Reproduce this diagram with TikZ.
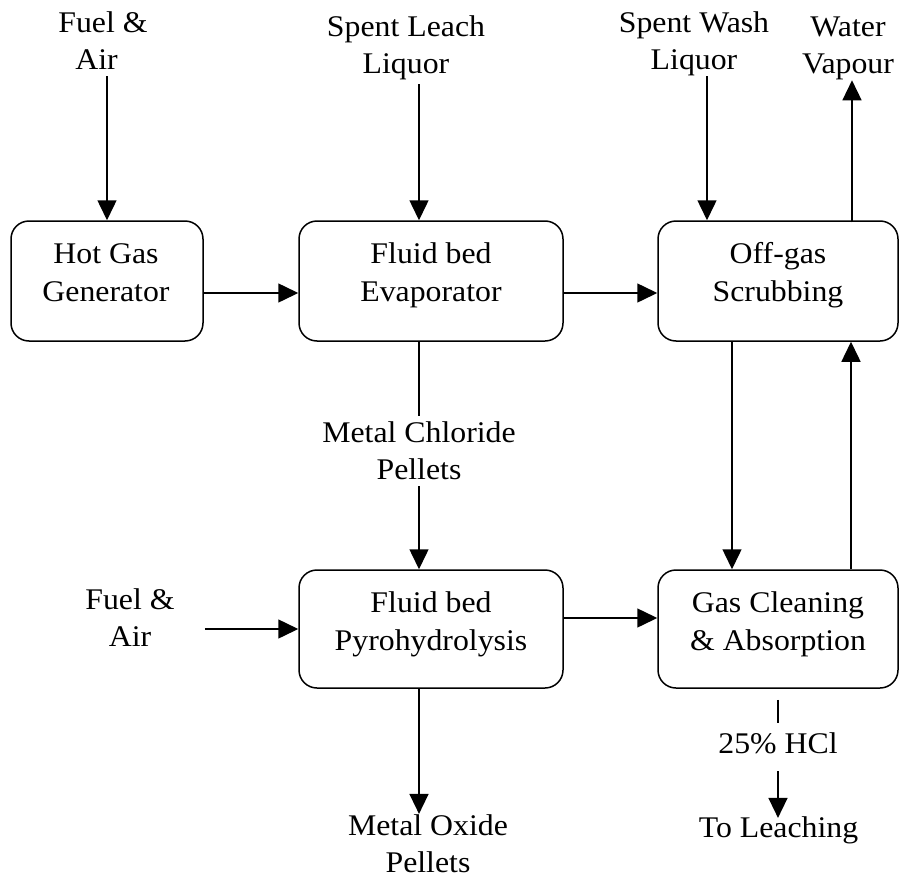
\documentclass[tikz,border=0pt]{standalone}
\usepackage{fontspec}
\setmainfont{Liberation Serif}[FakeStretch=1.06]
\usetikzlibrary{arrows.meta,calc}
\newcommand{\twol}[2]{\begin{tabular}[t]{@{}c@{}}#1\\#2\end{tabular}}
\newcommand{\onel}[1]{\begin{tabular}[t]{@{}c@{}}#1\end{tabular}}
\begin{document}
\begin{tikzpicture}[x=1pt,y=-1pt,
  box/.style={draw, line width=1.5pt, rounded corners=18pt, inner sep=0pt},
  lbl/.style={inner sep=0pt, anchor=base, font=\fontsize{30}{37}\selectfont},
  blbl/.style={inner sep=0pt, anchor=base, font=\fontsize{30}{38}\selectfont},
  arr/.style={line width=1.5pt, -{Triangle[length=20pt,width=19pt]}},
  ln/.style={line width=1.5pt}]
\useasboundingbox (0,0) rectangle (900,878);
% boxes
\node[box, minimum width=192pt, minimum height=120pt] (hgg) at (107,281) {};
\node[box, minimum width=264pt, minimum height=120pt] (evap) at (431,281) {};
\node[box, minimum width=240pt, minimum height=120pt] (scrub) at (778,281) {};
\node[box, minimum width=264pt, minimum height=118pt] (pyro) at (431,629) {};
\node[box, minimum width=240pt, minimum height=118pt] (gasc) at (778,629) {};
% box texts
\node[blbl] (hggt) at ($(hgg.north)+(-1,43)$) {\twol{Hot Gas}{Generator}};
\node[blbl] (evapt) at ($(evap.north)+(0,43)$) {\twol{Fluid bed}{Evaporator}};
\node[blbl] (scrubt) at ($(scrub.north)+(0,43)$) {\twol{Off-gas}{Scrubbing}};
\node[blbl] (pyrot) at ($(pyro.north)+(0,43)$) {\twol{Fluid bed}{Pyrohydrolysis}};
\node[blbl] (gasct) at ($(gasc.north)+(0,43)$) {\twol{Gas Cleaning}{\& Absorption}};
% outer labels
\node[lbl] (fa1) at (103,32) {\twol{Fuel \&}{Air\hspace*{13pt}}};
\node[lbl] (sl) at (406,36) {\twol{Spent Leach}{Liquor}};
\node[lbl] (sw) at (694,32) {\twol{Spent Wash}{Liquor}};
\node[lbl] (wv) at (848,36) {\twol{Water}{Vapour}};
\node[lbl] (mc) at (419,442) {\twol{Metal Chloride}{Pellets}};
\node[lbl] (fa2) at (130,609) {\twol{Fuel \&}{Air}};
\node[lbl] (mo) at (428,835) {\twol{Metal Oxide}{Pellets}};
\node[lbl] (hcl) at (778,753) {\onel{25\% HCl}};
\node[lbl] (tl) at (778.5,837) {\onel{To Leaching}};
% connectors
\draw[arr, shorten <=-4pt] (hgg.north |- fa1.south) -- (hgg.north);
\draw[arr] ($(evap.north |- sl.south)+(-12,0)$) -- ($(evap.north)+(-12,0)$);
\draw[arr, shorten <=-4pt] ($(scrub.north |- sw.south)+(-71,0)$) -- ($(scrub.north)+(-71,0)$);
\draw[arr, shorten >=-4pt] ($(scrub.north)+(74,2)$) -- ($(scrub.north |- wv.south)+(74,0)$);
\draw[arr] ($(hgg.east)+(0,12)$) -- ($(evap.west)+(0,12)$);
\draw[arr] ($(evap.east)+(0,12)$) -- ($(scrub.west)+(0,12)$);
\draw[ln] ($(evap.south)+(-12,0)$) -- ($(evap.south |- mc.north)+(-12,0)$);
\draw[arr, shorten <=-4pt] ($(pyro.north |- mc.south)+(-12,0)$) -- ($(pyro.north)+(-12,0)$);
\draw[arr, shorten >=-5pt] ($(pyro.south)+(-12,0)$) -- ($(pyro.south |- mo.north)+(-12,0)$);
\draw[arr] ($(fa2.east |- pyro.west)+(30,0)$) -- (pyro.west);
\draw[arr] ($(pyro.east)+(0,-11)$) -- ($(gasc.west)+(0,-11)$);
\draw[arr] ($(scrub.south)+(-46,0)$) -- ($(scrub.south |- gasc.north)+(-46,0)$);
\draw[arr] ($(scrub.south |- gasc.north)+(73,0)$) -- ($(scrub.south)+(73,0)$);
\draw[ln] ($(gasc.south)+(0,11)$) -- ($(gasc.south |- hcl.north)+(0,-4)$);
\draw[arr, shorten <=7pt, shorten >=-7pt] (gasc.south |- hcl.south) -- (gasc.south |- tl.north);
\end{tikzpicture}
\end{document}
